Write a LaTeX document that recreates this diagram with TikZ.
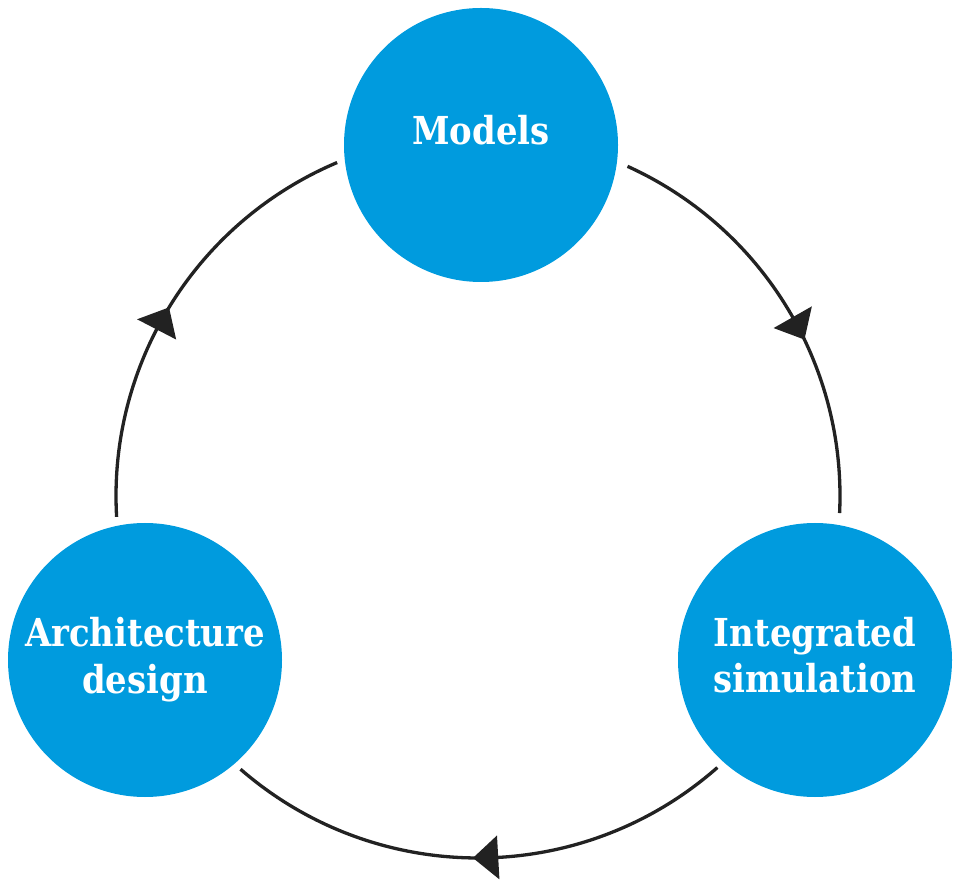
\documentclass[tikz,border=0pt]{standalone}
\usepackage{fontspec}
\setmainfont{DejaVu Serif}[FakeStretch=0.88]
\definecolor{cblue}{RGB}{0,155,222}
\definecolor{cline}{RGB}{34,34,34}
\begin{document}
\begin{tikzpicture}[x=1pt,y=1pt,
  bubble/.style={circle,fill=cblue,minimum size=274pt,inner sep=0pt},
  lbl/.style={text=white,font=\bfseries\fontsize{38.5}{47}\selectfont,align=center,inner sep=0pt,anchor=base},
  flow/.style={draw=cline,line width=3.3pt},
  tipfill/.style={fill=cline}]
\useasboundingbox (0,0) rectangle (961,884);
\node[bubble] (m) at (481,739) {};
\node[bubble] (a) at (145,224) {};
\node[bubble] (s) at (815,224) {};
\node[lbl] (tm) at (481,739) {Models};
\node[lbl] (ta) at (145,190) {Architecture\\design};
\node[lbl] (ts) at (815,191) {Integrated\\simulation};
\begin{scope}[shift={(478,388)}]
  \coordinate (r1s) at (65.6:362);
  \coordinate (r2s) at (-48.6:362);
  \coordinate (r3s) at (183.3:362);
  \draw[flow] (r1s) arc[start angle=65.6, end angle=-2.7, radius=362];
  \draw[flow] (r2s) arc[start angle=-48.6, end angle=-131, radius=362];
  \draw[flow] (r3s) arc[start angle=183.3, end angle=112.9, radius=362];
  \fill[tipfill] (25.6:362) -- (29.6:340) -- (29.6:384) -- cycle;
  \fill[tipfill] (-90.8:362) -- (-86.8:340) -- (-86.8:384) -- cycle;
  \fill[tipfill] (148.6:362) -- (152.6:340) -- (152.6:384) -- cycle;
\end{scope}
\end{tikzpicture}
\end{document}
